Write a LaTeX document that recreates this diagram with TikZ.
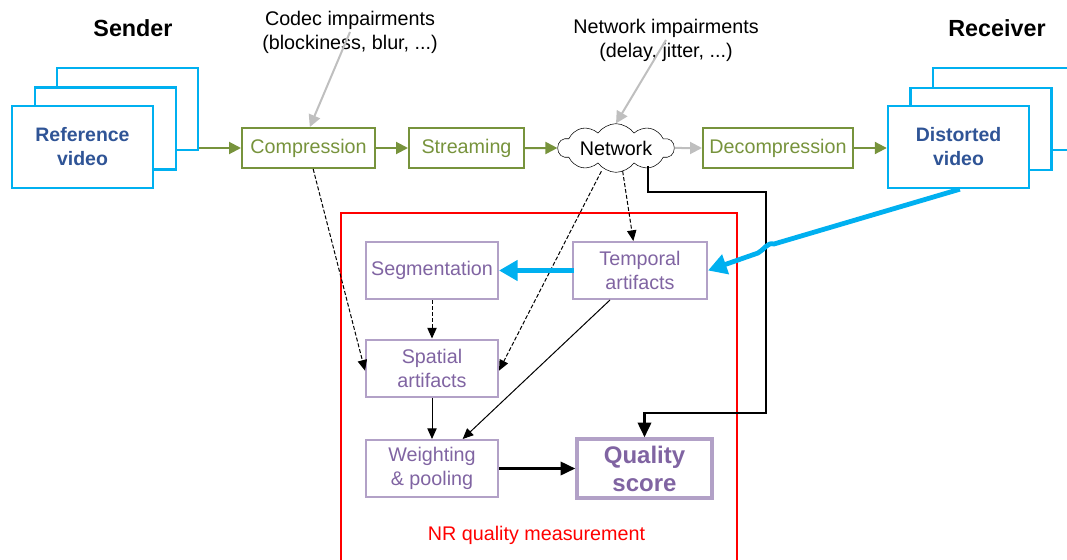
\documentclass[tikz,border=0pt]{standalone}
\usepackage{fontspec}
\setmainfont{Liberation Sans}
\usetikzlibrary{arrows.meta,shapes.symbols}

\definecolor{vidblue}{RGB}{0,176,240}
\definecolor{vidtext}{RGB}{47,84,150}
\definecolor{stagegreen}{RGB}{119,147,60}
\definecolor{nrpurple}{RGB}{178,161,199}
\definecolor{nrtext}{RGB}{128,100,162}
\definecolor{impgray}{RGB}{191,191,191}

\begin{document}
\begin{tikzpicture}[x=0.75pt,y=0.75pt,yscale=-1,xscale=1,
  font=\fontsize{14.8}{18}\selectfont,
  frame/.style={draw=vidblue,line width=1.8pt,fill=white,minimum width=105.75pt,minimum height=61.5pt,
    text=vidtext,font=\fontsize{14.6}{18}\selectfont\bfseries,align=center},
  stage/.style={draw=stagegreen,line width=1.5pt,text=stagegreen,minimum height=30pt,inner sep=1pt},
  nrbox/.style={draw=nrpurple,line width=1.5pt,text=nrtext,align=center,minimum width=99pt,minimum height=42.75pt,inner sep=1pt},
  stagearr/.style={draw=stagegreen,line width=1.5pt,-{Triangle[length=9pt,width=9pt]}},
  grayarr/.style={draw=impgray,line width=1.5pt,-{Triangle[length=9pt,width=9pt]}},
  dasharr/.style={dash pattern=on 3pt off 1.5pt,line width=0.75pt,-{Triangle[length=8pt,width=7pt]}},
  thinarr/.style={line width=0.75pt,-{Triangle[length=8pt,width=7pt]}},
  thickarr/.style={line width=1.9pt,-{Triangle[length=11pt,width=10pt]}},
  bluearr/.style={draw=vidblue,line width=3.6pt,-{Triangle[length=14pt,width=15pt]}}]
\useasboundingbox (0,0) rectangle (1067,560);

% Titles
\node[font=\fontsize{17.5}{20}\selectfont\bfseries] (sender) at (133,28) {Sender};
\node[font=\fontsize{17.5}{20}\selectfont\bfseries] (receiver) at (997,28) {Receiver};
\node[align=center] (codecimp) at (350,32) {Codec impairments\\(blockiness, blur, ...)};
\node[align=center] (netimp) at (666,40) {Network impairments\\(delay, jitter, ...)};

% Reference video stack
\node[frame] (refback) at (127.5,109) {};
\node[frame] (refmid) at (105.5,128.5) {};
\node[frame] (reffront) at (82.5,147) {Reference\\video};

% Distorted video stack
\node[frame] (distback) at (1003.5,109) {};
\node[frame] (distmid) at (981,129) {};
\node[frame] (distfront) at (958.5,147) {Distorted\\video};

% Chain
\node[stage,minimum width=99.75pt] (comp) at (308.5,148) {Compression};
\node[stage,minimum width=86.25pt] (stream) at (466.5,148) {Streaming};
\node[cloud,draw,cloud puffs=10,cloud puff arc=110,aspect=2.7,inner sep=-2pt,
  minimum width=87pt,minimum height=32pt,fill=white] (net) at (616,148) {Network};
\node[stage,minimum width=112.5pt] (decomp) at (778,148) {Decompression};

\draw[stagearr] (refback.east |- comp.west) -- (comp.west);
\draw[stagearr] (comp) -- (stream);
\draw[stagearr] (stream) -- (net);
\draw[grayarr] (net) -- (decomp);
\draw[stagearr] (decomp) -- (distfront.west |- decomp.east);
\draw[grayarr] (codecimp.center) -- ([xshift=1pt]comp.north);
\draw[grayarr] (netimp.center) -- (net.north);

% NR quality measurement
\draw[red,line width=1.5pt] (341,213) rectangle (737,580);
\node[text=red] (nrlabel) at (536.5,535) {NR quality measurement};

\node[nrbox] (seg) at (432,270.5) {Segmentation};
\node[nrbox,minimum width=100.5pt] (temporal) at (640,270.5) {Temporal\\artifacts};
\node[nrbox] (spatial) at (432,368) {Spatial\\artifacts};
\node[nrbox] (weight) at (432,468.5) {Weighting\\\& pooling};
\node[nrbox,line width=2.6pt,minimum width=101.25pt,minimum height=44.25pt,
  font=\fontsize{18}{21}\selectfont\bfseries] (quality) at (644.5,468.5) {Quality\\score};

\coordinate (netout) at (648,166);
\coordinate (loopc) at (766,192);
\coordinate (loopd) at (766,413);
\coordinate (hopa) at (774,244);
\coordinate (hopb) at (758,253);

\draw[dasharr] ([xshift=3.5pt]comp.south) -- ([yshift=2pt]spatial.west);
\draw[dasharr] ([xshift=-11pt,yshift=-1pt]net.south) -- ([yshift=2pt]spatial.east);
\draw[dasharr] ([xshift=5pt,yshift=-1pt]net.south) -- ([xshift=-5pt]temporal.north);
\draw[dasharr] (seg) -- (spatial);
\draw[thinarr] (spatial) -- (weight);
\draw[thinarr] ([xshift=-22.5pt]temporal.south) -- ([xshift=23pt]weight.north);
\draw[thickarr] (weight) -- (quality);
\draw[thickarr] (netout) |- (loopc) -- (loopd) -| (quality.north);

\draw[bluearr] ([xshift=1.5pt]temporal.west) -- (seg.east);
\draw[bluearr] ([xshift=1pt]distfront.south) -- (hopa) .. controls (767,242) and (764,250) .. (hopb) -- (temporal.east);

\end{tikzpicture}
\end{document}
